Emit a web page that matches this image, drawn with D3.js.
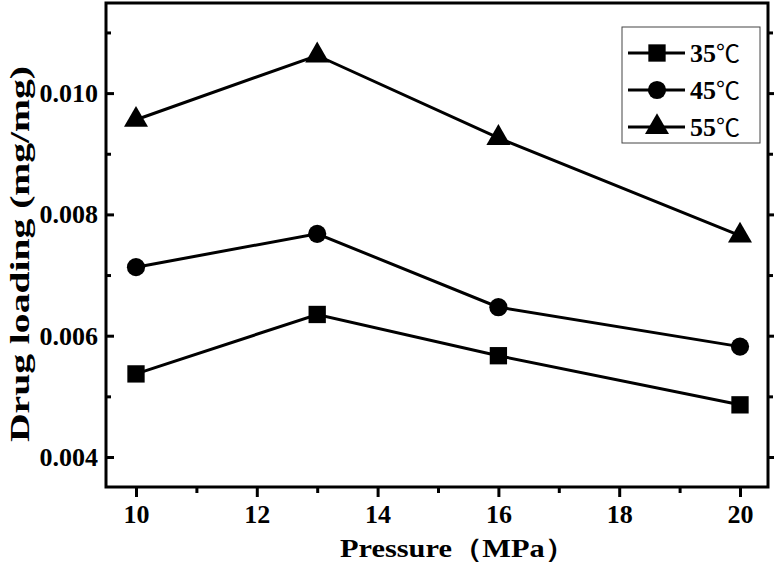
<!DOCTYPE html>
<html><head><meta charset="utf-8">
<script src="https://cdn.jsdelivr.net/npm/d3@7/dist/d3.min.js"></script>
<style>body{margin:0;background:#fff}svg{display:block}</style>
</head><body><svg id="c" width="774" height="564"></svg>
<script>
const pressures = [10, 13, 16, 20];
const load35 = [0.00537, 0.00635, 0.00567, 0.00486];
const load45 = [0.00713, 0.00768, 0.00647, 0.00582];
const load55 = [0.00956, 0.01062, 0.00926, 0.00765];
const seriesTemps = ["35", "45", "55"];
const xMajor = [10, 12, 14, 16, 18, 20];
const xMinor = [11, 13, 15, 17, 19];
const yMajor = [0.004, 0.006, 0.008, 0.010];
const yMinor = [0.005, 0.007, 0.009, 0.011];
const xTitle = "Pressure（MPa）";
const yTitle = "Drug loading (mg/mg)";

const svg = d3.select("#c");
const L = 106, R = 768, T = 3, B = 487;
const x = d3.scaleLinear().domain([10 - (136 - L) / 60.4, 10 + (R - 136) / 60.4]).range([L, R]);
const y = d3.scaleLinear().domain([0.004 - (B - 457) / 60650, 0.004 + (457 - T) / 60650]).range([B, T]);

const font = "'Liberation Serif','Times New Roman',serif";

// frame
svg.append("rect").attr("x", L).attr("y", T).attr("width", R - L).attr("height", B - T)
  .attr("fill", "none").attr("stroke", "#000").attr("stroke-width", 3);

function styleAxis(g) {
  g.attr("font-size", null).attr("font-family", null);
  g.select(".domain").remove();
  g.selectAll(".tick line").attr("stroke", "#000").attr("stroke-width", 3);
  g.selectAll(".tick text").attr("font-family", font).attr("font-weight", "bold")
    .attr("font-size", 26).attr("fill", "#000");
}

// x axis
svg.append("g").attr("transform", `translate(0,${B})`)
  .call(d3.axisBottom(x).tickValues(xMajor).tickSize(10).tickPadding(8).tickFormat(d3.format("d")))
  .call(styleAxis);
svg.append("g").attr("transform", `translate(0,${B})`)
  .call(d3.axisBottom(x).tickValues(xMinor).tickSize(6).tickFormat(""))
  .call(styleAxis);

// y axis (inward ticks)
svg.append("g").attr("transform", `translate(${L},0)`)
  .call(d3.axisLeft(y).tickValues(yMajor).tickSizeInner(-8).tickSizeOuter(0).tickPadding(8).tickFormat(d3.format(".3f")))
  .call(styleAxis);
svg.append("g").attr("transform", `translate(${L},0)`)
  .call(d3.axisLeft(y).tickValues(yMinor).tickSizeInner(-5).tickSizeOuter(0).tickFormat(""))
  .call(styleAxis);
// right mirror ticks (outward)
svg.append("g").attr("transform", `translate(${R},0)`)
  .call(d3.axisRight(y).tickValues(yMajor).tickSize(8).tickFormat(""))
  .call(styleAxis);
svg.append("g").attr("transform", `translate(${R},0)`)
  .call(d3.axisRight(y).tickValues(yMinor).tickSize(5).tickFormat(""))
  .call(styleAxis);

// titles
svg.append("text").attr("x", 340).attr("y", 557)
  .attr("textLength", 235).attr("lengthAdjust", "spacingAndGlyphs")
  .attr("font-family", font).attr("font-weight", "bold").attr("font-size", 26).text(xTitle);
svg.append("text").attr("transform", "translate(29,442) rotate(-90)")
  .attr("textLength", 376).attr("lengthAdjust", "spacingAndGlyphs")
  .attr("font-family", font).attr("font-weight", "bold").attr("font-size", 28).text(yTitle);

// series
const allSeries = [load35, load45, load55];
const symbols = [
  d3.symbol().type(d3.symbolSquare).size(300),
  d3.symbol().type(d3.symbolCircle).size(260),
  d3.symbol().type(d3.symbolTriangle).size(250)
];
const line = d3.line().x(d => x(d[0])).y(d => y(d[1]));
allSeries.forEach((vals, i) => {
  const pts = pressures.map((p, j) => [p, vals[j]]);
  svg.append("path").attr("d", line(pts)).attr("fill", "none").attr("stroke", "#000").attr("stroke-width", 3);
  svg.append("g").selectAll("path").data(pts).join("path")
    .attr("transform", d => `translate(${x(d[0])},${y(d[1])})`)
    .attr("d", symbols[i]).attr("fill", "#000");
});

// legend
const lg = svg.append("g");
lg.append("rect").attr("x", 622).attr("y", 27).attr("width", 138).attr("height", 116)
  .attr("fill", "#fff").attr("stroke", "#444").attr("stroke-width", 1);
seriesTemps.forEach((n, i) => {
  const yy = 53 + i * 37;
  lg.append("line").attr("x1", 628).attr("x2", 685).attr("y1", yy).attr("y2", yy)
    .attr("stroke", "#000").attr("stroke-width", 3);
  lg.append("path").attr("transform", `translate(657,${yy})`).attr("d", symbols[i]).attr("fill", "#000");
  const t = lg.append("text").attr("x", 690).attr("y", yy + 9).attr("font-family", font)
    .attr("font-weight", "bold").attr("font-size", 26);
  t.append("tspan").text(n);
  t.append("tspan").attr("font-family", "'Noto Sans CJK SC'").attr("font-weight", "normal")
    .attr("font-size", 24).text("℃");
});
</script></body></html>
